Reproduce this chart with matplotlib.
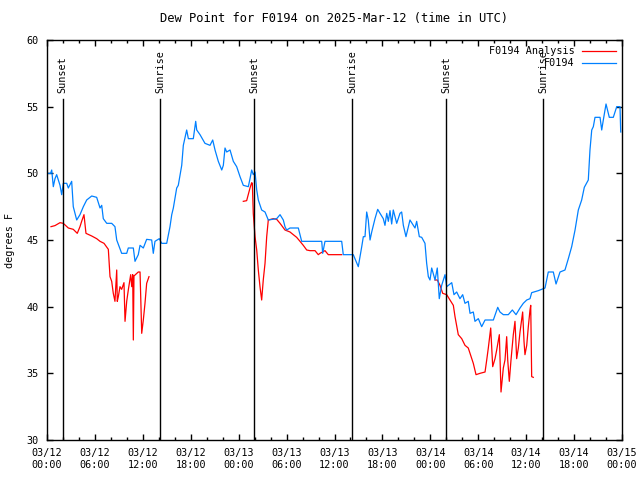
import numpy as np
import pandas as pd
import matplotlib
matplotlib.use("Agg")
import matplotlib.pyplot as plt
import matplotlib.dates as mdates
from matplotlib.ticker import MultipleLocator

base = pd.Timestamp("2025-03-12 00:00")

# F0194 observations: hours since 03/12 00:00 UTC, dew point (F)
obs_hours = [0.16, 0.45, 0.59, 0.79, 1.0, 1.21, 1.63, 1.84, 2.04, 2.47, 2.67, 3.09, 3.29, 3.72,
             4.13, 4.55, 4.97, 5.60, 6.22, 6.64, 6.85, 7.05, 7.48, 8.10, 8.51, 8.73, 9.35, 9.98,
             10.18, 10.81, 11.02, 11.43, 11.65, 12.06, 12.48, 13.11, 13.31, 13.52, 14.06, 14.36,
             14.99, 15.40, 15.62, 15.82, 16.24, 16.44, 16.87, 17.07, 17.49, 17.70, 18.32, 18.62,
             18.75, 19.16, 19.78, 20.41, 20.75, 21.04, 21.45, 21.88, 22.08, 22.29, 22.50, 22.92,
             23.33, 23.75, 24.17, 24.58, 25.21, 25.42, 25.63, 25.83, 26.05, 26.26, 26.46, 26.88,
             27.30, 27.71, 28.76, 29.18, 29.59, 29.80, 30.01, 30.43, 31.47, 31.89, 34.40, 34.52,
             34.81, 36.90, 37.10, 38.35, 38.98, 39.41, 39.61, 39.82, 40.03, 40.23, 40.45, 40.66,
             41.07, 41.41, 41.70, 42.11, 42.32, 42.54, 42.74, 42.95, 43.16, 43.36, 43.79, 44.20,
             44.41, 44.62, 44.95, 45.45, 46.08, 46.29, 46.62, 46.92, 47.33, 47.54, 47.75, 47.96,
             48.17, 48.59, 48.87, 49.12, 49.42, 49.84, 50.05, 50.68, 50.96, 51.30, 51.71, 52.05,
             52.34, 52.75, 52.97, 53.38, 53.59, 54.01, 54.43, 54.85, 55.89, 56.44, 56.72, 57.14,
             57.76, 58.27, 58.73, 59.23, 59.64, 60.07, 60.48, 60.69, 61.52, 62.36, 62.77, 63.40,
             63.74, 64.24, 64.86, 65.28, 65.70, 66.12, 66.53, 66.95, 67.28, 67.78, 67.99, 68.21,
             68.41, 68.62, 69.25, 69.46, 69.66, 70.00, 70.41, 70.91, 71.34, 71.75, 71.84]
obs_dew = [50.0, 50.0, 50.25, 49.0, 49.6, 49.9, 49.1, 48.4, 49.25, 49.25, 48.9, 49.4, 47.5, 46.5,
           46.9, 47.5, 48.0, 48.3, 48.2, 47.4, 47.6, 46.6, 46.25, 46.25, 46.0, 45.0, 44.0, 44.0,
           44.4, 44.4, 43.4, 43.9, 44.6, 44.4, 45.05, 45.0, 44.0, 44.9, 45.1, 44.75,
           44.75, 46.0, 46.9, 47.4, 48.9, 49.1, 50.6, 52.1, 53.25, 52.6, 52.6, 53.9,
           53.25, 52.9, 52.25, 52.1, 52.5, 51.75, 50.9, 50.25, 50.6, 51.9, 51.6, 51.75,
           50.9, 50.5, 49.75, 49.1, 49.0, 49.6, 50.25, 49.9, 50.1, 48.75, 48.0, 47.25,
           47.1, 46.5, 46.6, 46.9, 46.5, 46.0, 45.75, 45.9, 45.9, 44.9, 44.9, 44.0,
           44.9, 44.9, 43.9, 43.9, 43.0, 44.5, 45.25, 45.25, 47.1, 46.5, 45.0, 45.6,
           46.6, 47.3, 47.0, 46.6, 46.1, 47.0, 46.4, 47.2, 46.2, 47.25, 46.25, 47.0,
           47.1, 46.1, 45.25, 46.5, 45.9, 46.4, 45.25, 45.2, 44.75, 43.25, 42.25, 42.0,
           42.9, 42.0, 42.9, 40.6, 41.6, 42.4, 41.5, 41.8, 40.9, 41.1, 40.6, 40.9,
           40.25, 40.4, 39.5, 39.6, 38.9, 39.1, 38.5, 39.0, 39.0, 39.95, 39.6, 39.4,
           39.4, 39.75, 39.4, 39.9, 40.25, 40.5, 40.6, 41.05, 41.2, 41.4, 42.6, 42.6,
           41.7, 42.6, 42.75, 43.6, 44.5, 45.75, 47.25, 48.0, 48.95, 49.5, 51.75, 53.25,
           53.5, 54.2, 54.2, 53.25, 54.0, 55.2, 54.2, 54.2, 55.0, 55.0, 53.1]

# F0194 analysis (NaN = gap)
ana_hours = [0.50, 1.00, 1.63, 2.04, 2.67, 3.29, 3.79, 4.13, 4.34, 4.63, 4.88, 5.60, 6.22, 6.64,
             7.14, 7.68, 7.89, 8.10, 8.30, 8.51, 8.73, 8.80, 8.93, 9.14, 9.35, 9.64, 9.77, 9.98,
             10.18, 10.48, 10.61, 10.73, 10.81, 10.89, 11.43, 11.65, 11.86, 12.06, 12.27, 12.48,
             12.77, 18.0,
             24.58, 25.0, 25.42, 25.63, 25.71, 25.83, 26.05, 26.26, 26.46, 26.67, 26.88, 27.08,
             27.30, 27.51, 27.71, 28.34, 28.76, 29.18, 29.80, 30.43, 30.84, 31.26, 31.68, 32.09,
             32.52, 32.93, 33.56, 33.97, 34.18, 34.81, 35.22, 36.90, 42.0,
             48.59, 48.87, 49.21, 49.55, 50.05, 50.46, 50.88, 51.09, 51.50, 51.93, 52.34, 52.75,
             52.97, 53.38, 53.72, 54.22, 54.85, 55.06, 55.26, 55.56, 55.81, 56.10, 56.31, 56.64,
             56.85, 57.14, 57.35, 57.56, 57.69, 57.89, 58.10, 58.39, 58.60, 58.81, 59.02, 59.23,
             59.56, 59.73, 59.85, 60.07, 60.27, 60.48, 60.57, 60.69, 60.89]
ana_dew = [46.0, 46.08, 46.3, 46.25, 45.9, 45.8, 45.5, 46.0, 46.4, 46.9, 45.5, 45.3, 45.1, 44.9,
           44.75, 44.3, 42.25, 41.9, 41.0, 40.4, 42.75, 40.4, 40.75, 41.5, 41.3, 41.8, 38.9, 40.4,
           41.25, 42.4, 41.5, 42.4, 37.5, 42.3, 42.6, 42.6, 38.0, 39.0, 40.25, 41.75,
           42.25, np.nan,
           47.9, 47.95, 48.9, 49.3, 49.25, 47.0, 45.25, 44.25, 42.75, 41.5, 40.5, 42.0,
           43.25, 45.25, 46.5, 46.6, 46.55, 46.25, 45.75, 45.6, 45.4, 45.2, 44.9, 44.6,
           44.25, 44.2, 44.2, 43.9, 44.0, 44.2, 43.9, 43.9, np.nan,
           42.0, 42.0, 41.6, 41.0, 40.9, 40.5, 40.1, 39.25, 37.9, 37.6, 37.1, 36.9,
           36.5, 35.75, 34.9, 35.0, 35.1, 36.0, 36.9, 38.4, 35.5, 36.1, 36.75, 37.9,
           33.6, 35.4, 36.0, 37.75, 36.0, 34.4, 36.0, 37.9, 38.9, 36.1, 36.9, 38.1,
           39.6, 37.4, 36.4, 37.1, 38.5, 39.75, 40.1, 34.75, 34.7]

sun_hours = [1.95, 14.15, 25.95, 38.2, 49.95, 62.15]
sun_labels = ["Sunset", "Sunrise", "Sunset", "Sunrise", "Sunset", "Sunrise"]


def to_time(hours):
    return base + pd.to_timedelta(np.array(hours), unit="h")


plt.rcParams["font.family"] = "DejaVu Sans Mono"
plt.rcParams["font.size"] = 7.3

fig = plt.figure(figsize=(6.4, 4.8), dpi=100)
ax = fig.add_axes([47 / 640, 40 / 480, 575 / 640, 400 / 480])

ax.plot(to_time(ana_hours), ana_dew, color="#ff0000", lw=0.9, label="F0194 Analysis")
ax.plot(to_time(obs_hours), obs_dew, color="#0080ff", lw=0.9, label="F0194")

for h, lab in zip(sun_hours, sun_labels):
    t = to_time([h])[0]
    ax.plot([t, t], [30, 55.6], color="black", lw=1)
    ax.text(t, 56.0, lab, rotation=90, ha="center", va="bottom")

ax.set_xlim(base, base + pd.Timedelta(hours=72))
ax.set_ylim(30, 60)
ax.xaxis.set_major_locator(mdates.HourLocator(byhour=[0, 6, 12, 18]))
ax.xaxis.set_minor_locator(mdates.HourLocator(byhour=range(0, 24, 2)))
ax.xaxis.set_major_formatter(mdates.DateFormatter("%m/%d\n%H:%M"))
ax.yaxis.set_major_locator(MultipleLocator(5))
ax.tick_params(which="both", direction="in", top=True, right=True, width=1, pad=6)
ax.tick_params(which="major", length=4)
ax.tick_params(which="minor", length=2)
for s in ax.spines.values():
    s.set_linewidth(1)

ax.set_ylabel("degrees F", labelpad=8)
ax.set_title("Dew Point for F0194 on 2025-Mar-12 (time in UTC)", pad=13)

ax.legend(loc="upper right", frameon=False, markerfirst=False, handlelength=3.3,
          borderaxespad=0.2, labelspacing=0.2, handletextpad=0.8)

fig.savefig("out.png", dpi=100)
